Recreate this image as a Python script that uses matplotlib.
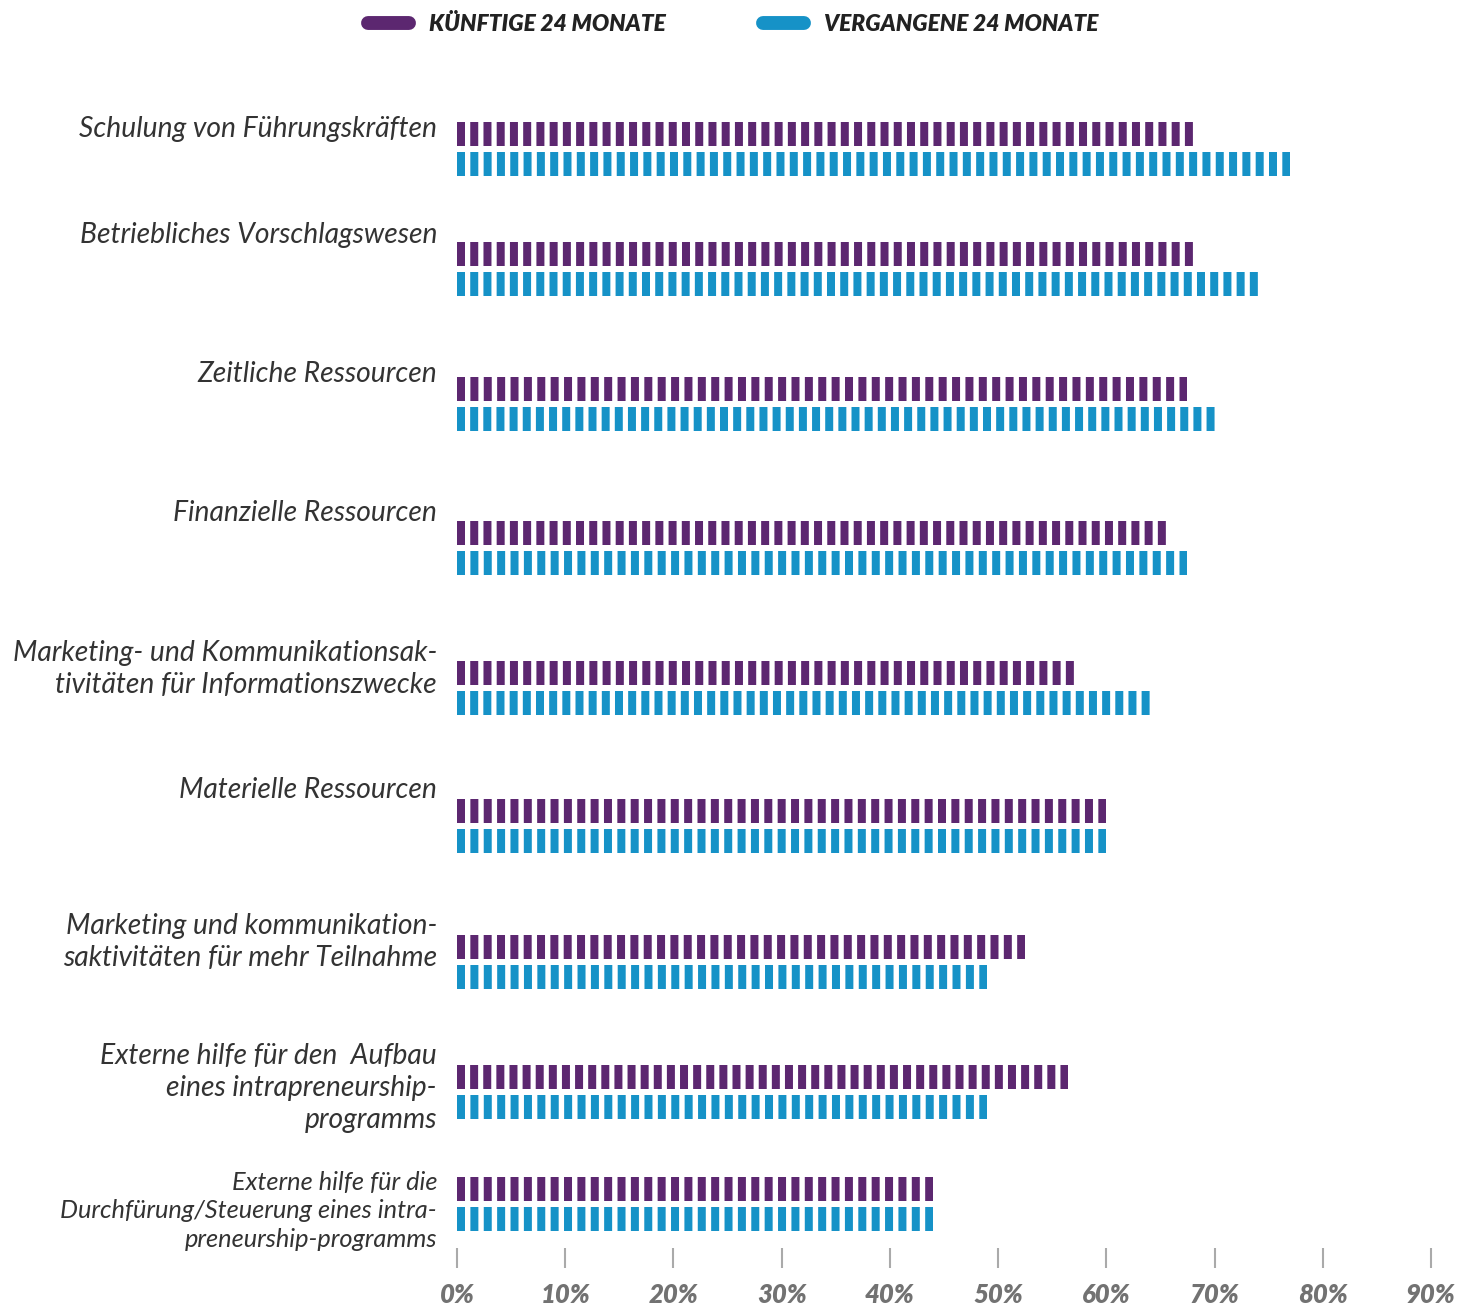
import matplotlib
matplotlib.use("Agg")
import matplotlib.pyplot as plt
from matplotlib.lines import Line2D

plt.rcParams.update({"font.family": ["Lato", "DejaVu Sans"], "lines.scale_dashes": False})

categories = [
    "Schulung von Führungskräften",
    "Betriebliches Vorschlagswesen",
    "Zeitliche Ressourcen",
    "Finanzielle Ressourcen",
    "Marketing- und Kommunikationsak-\ntivitäten für Informationszwecke",
    "Materielle Ressourcen",
    "Marketing und kommunikation-\nsaktivitäten für mehr Teilnahme",
    "Externe hilfe für den  Aufbau\neines intrapreneurship-\nprogramms",
    "Externe hilfe für die\nDurchfürung/Steuerung eines intra-\npreneurship-programms",
]
future = [68, 68, 67.5, 65.5, 57, 60, 52.5, 56.5, 44]
past = [77, 74, 70, 67.5, 64, 60, 49, 49, 44]
ticks = [0, 10, 20, 30, 40, 50, 60, 70, 80, 90]

# layout: row centers (row units, 132 px each) and first-line label offsets (px)
row_pos = [0, 0.91, 1.93, 3.02, 4.08, 5.13, 6.16, 7.14, 7.99]
label_dy = [-22, -36, -32, -37, -37, -38, -38, -38, -23]

purple = "#5C2770"
blue = "#1692C7"

fig = plt.figure(figsize=(14.62, 13.1), dpi=100)
ax = fig.add_axes([457 / 1462, 1 - 1268 / 1310, (1431 - 457) / 1462, (1268 - 80) / 1310])
ax.set_xlim(0, 90)
ax.set_ylim(8.477, -0.523)

px_per_unit = ax.transData.transform((1, 0))[0] - ax.transData.transform((0, 0))[0]
seg_px, period_px = 8, 13.26


def striped_bar(y, value, color):
    # dash pattern stretched so the bar ends on a full stripe
    length = value * px_per_unit
    n = max(2, round((length + period_px - seg_px) / period_px))
    gap = (length - n * seg_px) / (n - 1)
    ax.hlines(y, 0, value, color=color, linewidth=24 * 0.72,
              linestyle=(0, (seg_px * 0.72, gap * 0.72)))


off = 15 / 132
for i, (y, f, p) in enumerate(zip(row_pos, future, past)):
    striped_bar(y - off, f, purple)
    striped_bar(y + off, p, blue)
    last = i == len(categories) - 1
    fs = 18.3 if last else 20.3
    half_line = 10 if last else 11
    ax.annotate(categories[i], xy=(0, y + (label_dy[i] - half_line) / 132),
                xycoords=("axes fraction", "data"), xytext=(-14.4, 0),
                textcoords="offset points", ha="right", va="top",
                fontsize=fs, style="italic", color="#333333", linespacing=1.3)

ax.set_yticks([])
ax.set_xticks(ticks)
ax.set_xticklabels([f"{t}%" for t in ticks], fontsize=18.5, fontweight="heavy", style="italic", color="#727272")
ax.tick_params(axis="x", direction="in", length=14.4, width=1.5, color="#AAAAAA", pad=11)
for s in ax.spines.values():
    s.set_visible(False)

handles = [Line2D([0], [0], color=purple, linewidth=10, solid_capstyle="round"),
           Line2D([0], [0], color=blue, linewidth=10, solid_capstyle="round")]
fig.legend(handles, ["KÜNFTIGE 24 MONATE", "VERGANGENE 24 MONATE"], loc="center",
           bbox_to_anchor=(0.5015, 0.981), ncol=2, frameon=False, handlelength=1.8,
           handletextpad=0.85, columnspacing=4.3,
           prop={"size": 16.4, "weight": "heavy", "style": "italic"})
for t in fig.legends[0].get_texts():
    t.set_color("#222222")

fig.savefig("out.png", dpi=100)
